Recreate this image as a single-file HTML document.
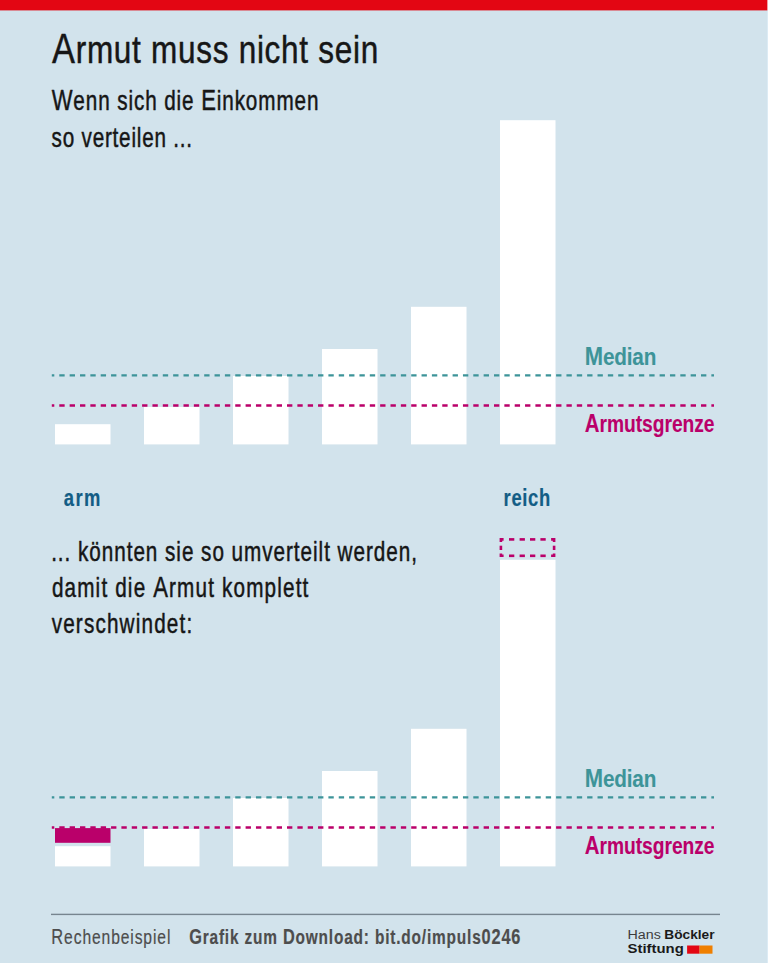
<!DOCTYPE html>
<html><head><meta charset="utf-8">
<style>
html,body{margin:0;padding:0;background:#d2e3ec;overflow:hidden;}
svg{display:block;}
text{font-family:"Liberation Sans",sans-serif;}
</style></head>
<body>
<svg width="768" height="963" viewBox="0 0 768 963">
<rect x="0" y="0" width="768" height="963" fill="#d2e3ec"/>
<rect x="0" y="0" width="768" height="10.4" fill="#e30613"/>
<text transform="translate(52.07 63.40) scale(0.8 1)" font-size="39.4" font-weight="normal" fill="#161616" stroke="#161616" stroke-width="0.5" stroke-linejoin="round" textLength="407.67" lengthAdjust="spacing"><tspan font-size="43">A</tspan>rmut muss nicht sein</text>
<text transform="translate(51.65 110.00) scale(0.75 1)" font-size="27.6" font-weight="normal" fill="#161616" stroke="#161616" stroke-width="0.5" stroke-linejoin="round" textLength="355.72" lengthAdjust="spacing"><tspan font-size="29.4">W</tspan>enn sich die <tspan font-size="29.4">E</tspan>inkommen</text>
<text transform="translate(51.61 146.50) scale(0.75 1)" font-size="27.6" font-weight="normal" fill="#161616" stroke="#161616" stroke-width="0.5" stroke-linejoin="round" textLength="187.25" lengthAdjust="spacing">so verteilen ...</text>
<rect x="55" y="424.20" width="55.5" height="20.20" fill="#fff"/>
<rect x="144" y="407.00" width="55.5" height="37.40" fill="#fff"/>
<rect x="233" y="376.00" width="55.5" height="68.40" fill="#fff"/>
<rect x="322" y="349.00" width="55.5" height="95.40" fill="#fff"/>
<rect x="411" y="306.80" width="55.5" height="137.60" fill="#fff"/>
<rect x="500" y="120.20" width="55.5" height="324.20" fill="#fff"/>
<line x1="51.8" y1="375.4" x2="714" y2="375.4" stroke="#3d9499" stroke-width="2.2" stroke-dasharray="5.35 5" stroke-dashoffset="2.85"/>
<line x1="51.8" y1="405.5" x2="714" y2="405.5" stroke="#ba006a" stroke-width="2.6" stroke-dasharray="5.35 5" stroke-dashoffset="2.85"/>
<text transform="translate(584.83 365.40) scale(0.84 1)" font-size="24.7" font-weight="bold" fill="#3d9499" stroke="#3d9499" stroke-width="0.1" stroke-linejoin="round" textLength="85.16" lengthAdjust="spacing"><tspan font-size="26.2">M</tspan>edian</text>
<text transform="translate(584.83 431.90) scale(0.78 1)" font-size="24.7" font-weight="bold" fill="#ba006a" stroke="#ba006a" stroke-width="0.1" stroke-linejoin="round" textLength="166.36" lengthAdjust="spacing"><tspan font-size="26.2">A</tspan>rmutsgrenze</text>
<text transform="translate(63.65 505.50) scale(0.8 1)" font-size="23.0" font-weight="bold" fill="#135d85" stroke="#135d85" stroke-width="0.2" stroke-linejoin="round" textLength="46.02" lengthAdjust="spacing">arm</text>
<text transform="translate(503.54 505.50) scale(0.8 1)" font-size="23.0" font-weight="bold" fill="#135d85" stroke="#135d85" stroke-width="0.2" stroke-linejoin="round" textLength="58.36" lengthAdjust="spacing">reich</text>
<text transform="translate(51.15 560.60) scale(0.75 1)" font-size="27.6" font-weight="normal" fill="#161616" stroke="#161616" stroke-width="0.5" stroke-linejoin="round" textLength="487.73" lengthAdjust="spacing">... könnten sie so umverteilt werden,</text>
<text transform="translate(51.91 596.80) scale(0.75 1)" font-size="27.6" font-weight="normal" fill="#161616" stroke="#161616" stroke-width="0.5" stroke-linejoin="round" textLength="341.87" lengthAdjust="spacing">damit die <tspan font-size="29.4">A</tspan>rmut komplett</text>
<text transform="translate(51.70 633.00) scale(0.75 1)" font-size="27.6" font-weight="normal" fill="#161616" stroke="#161616" stroke-width="0.5" stroke-linejoin="round" textLength="187.34" lengthAdjust="spacing">verschwindet:</text>
<rect x="55" y="846.20" width="55.5" height="20.20" fill="#fff"/>
<rect x="144" y="829.00" width="55.5" height="37.40" fill="#fff"/>
<rect x="233" y="798.00" width="55.5" height="68.40" fill="#fff"/>
<rect x="322" y="771.00" width="55.5" height="95.40" fill="#fff"/>
<rect x="411" y="728.80" width="55.5" height="137.60" fill="#fff"/>
<rect x="500" y="559.80" width="55.5" height="306.60" fill="#fff"/>
<rect x="55" y="828.1" width="55.5" height="14.7" fill="#ba006a"/>
<g fill="#ba006a"><path d="M499.6 538.10 H503.6 V540.70 H502.20 V542 H499.6 Z"/><path d="M555.4 538.10 H551.1 V540.70 H552.80 V542 H555.4 Z"/><path d="M499.6 557.10 H503.6 V554.50 H502.20 V553.4 H499.6 Z"/><path d="M555.4 557.10 H551.1 V554.50 H552.80 V553.4 H555.4 Z"/><rect x="509.0" y="538.10" width="5.3" height="2.6"/><rect x="509.0" y="554.50" width="5.3" height="2.6"/><rect x="519.6" y="538.10" width="5.3" height="2.6"/><rect x="519.6" y="554.50" width="5.3" height="2.6"/><rect x="530.0" y="538.10" width="5.3" height="2.6"/><rect x="530.0" y="554.50" width="5.3" height="2.6"/><rect x="540.4" y="538.10" width="5.3" height="2.6"/><rect x="540.4" y="554.50" width="5.3" height="2.6"/><rect x="499.60" y="545.7" width="2.6" height="4.3"/><rect x="552.80" y="545.7" width="2.6" height="4.3"/></g>
<line x1="51.8" y1="797.4" x2="714" y2="797.4" stroke="#3d9499" stroke-width="2.2" stroke-dasharray="5.35 5" stroke-dashoffset="2.85"/>
<line x1="51.8" y1="827.5" x2="714" y2="827.5" stroke="#ba006a" stroke-width="2.6" stroke-dasharray="5.35 5" stroke-dashoffset="2.85"/>
<text transform="translate(584.83 787.40) scale(0.84 1)" font-size="24.7" font-weight="bold" fill="#3d9499" stroke="#3d9499" stroke-width="0.1" stroke-linejoin="round" textLength="85.16" lengthAdjust="spacing"><tspan font-size="26.2">M</tspan>edian</text>
<text transform="translate(584.83 853.90) scale(0.78 1)" font-size="24.7" font-weight="bold" fill="#ba006a" stroke="#ba006a" stroke-width="0.1" stroke-linejoin="round" textLength="166.36" lengthAdjust="spacing"><tspan font-size="26.2">A</tspan>rmutsgrenze</text>
<rect x="51" y="913.7" width="669" height="1.4" fill="#77858f"/>
<text transform="translate(51.32 944.40) scale(0.76 1)" font-size="20.6" font-weight="normal" fill="#4d4d4d" stroke="#4d4d4d" stroke-width="0.2" stroke-linejoin="round" textLength="156.63" lengthAdjust="spacing"><tspan font-size="21.7">R</tspan>echenbeispiel</text>
<text transform="translate(189.16 944.20) scale(0.76 1)" font-size="20.3" font-weight="bold" fill="#4d4d4d" stroke="#4d4d4d" stroke-width="0.2" stroke-linejoin="round" textLength="435.83" lengthAdjust="spacing"><tspan font-size="21.5">G</tspan>rafik zum <tspan font-size="21.5">D</tspan>ownload: bit.do/impuls<tspan font-size="21.5">0246</tspan></text>
<text transform="translate(627.53 939.00) scale(1.0 1)" font-size="13.7" font-weight="normal" fill="#3c3c3c" textLength="33.41" lengthAdjust="spacingAndGlyphs">Hans</text>
<text transform="translate(664.31 939.00) scale(1.0 1)" font-size="13.7" font-weight="bold" fill="#1a1a1a" textLength="50.22" lengthAdjust="spacingAndGlyphs">Böckler</text>
<text transform="translate(627.53 952.50) scale(1.0 1)" font-size="13.5" font-weight="bold" fill="#1a1a1a" textLength="56.30" lengthAdjust="spacingAndGlyphs">Stiftung</text>
<rect x="687.1" y="945.5" width="12.5" height="8.2" fill="#e30613"/>
<rect x="699.6" y="945.5" width="12.9" height="8.2" fill="#ef7f00"/>
<rect x="767" y="0" width="1" height="10.4" fill="#f0a0a4"/>
<rect x="767" y="10.4" width="1" height="952.6" fill="#dcebf4"/>
</svg>
</body></html>
